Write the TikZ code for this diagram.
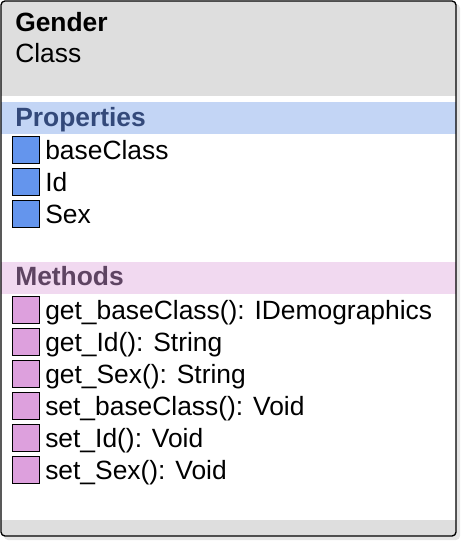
\documentclass[tikz,border=0pt]{standalone}
\usepackage{fontspec}
\setmainfont{Liberation Sans}

\definecolor{headgray}{HTML}{DEDEDE}
\definecolor{propband}{HTML}{C3D5F5}
\definecolor{proptext}{HTML}{33497A}
\definecolor{propbox}{HTML}{6495ED}
\definecolor{methband}{HTML}{F1D9F0}
\definecolor{methtext}{HTML}{5E4462}
\definecolor{methbox}{HTML}{DDA0DD}

\begin{document}
\begin{tikzpicture}[x=0.75pt, y=-0.75pt, font=\fontsize{19.8}{24}\selectfont]
	\tikzset{
		txt/.style={anchor=base west, inner sep=0pt},
		propsq/.style={draw, fill=propbox, minimum size=20.5pt, inner sep=0pt, line width=0.8pt},
		methsq/.style={draw, fill=methbox, minimum size=20.5pt, inner sep=0pt, line width=0.8pt}
	}
	\useasboundingbox (0, 0) rectangle (463, 544);
	\fill[black!10, rounded corners=3] (4, 4) rectangle (460, 540);
	\fill[white, rounded corners=3] (1, 1) rectangle (456, 536);
	\begin{scope}
		\clip[rounded corners=3] (1, 1) rectangle (456, 536);
		\fill[headgray] (0, 0) rectangle (463, 96);
		\fill[propband] (0, 102) rectangle (463, 134);
		\fill[methband] (0, 262) rectangle (463, 294);
		\fill[headgray] (0, 520) rectangle (463, 540);
	\end{scope}
	\draw[line width=1pt, rounded corners=3] (1, 1) rectangle (456, 536);

	\node[txt, font=\fontsize{19.8}{24}\selectfont\bfseries] (name) at (15, 31) {Gender};
	\node[txt] (kind) at (15, 62) {Class};

	\node[txt, text=proptext, font=\fontsize{19.8}{24}\selectfont\bfseries] (props) at (15, 126) {Properties};
	\node[propsq] (sqBase) at (26, 150) {};
	\node[txt] (baseClass) at (45, 159) {baseClass};
	\node[propsq] (sqId) at (26, 182) {};
	\node[txt] (id) at (45, 191) {Id};
	\node[propsq] (sqSex) at (26, 214) {};
	\node[txt] (sex) at (45, 223) {Sex};

	\node[txt, text=methtext, font=\fontsize{19.8}{24}\selectfont\bfseries] (meths) at (15, 285) {Methods};
	\node[methsq] (sqGetBase) at (26, 310) {};
	\node[txt] (getBase) at (45, 319) {get\_baseClass(): IDemographics};
	\node[methsq] (sqGetId) at (26, 342) {};
	\node[txt] (getId) at (45, 351) {get\_Id(): String};
	\node[methsq] (sqGetSex) at (26, 374) {};
	\node[txt] (getSex) at (45, 383) {get\_Sex(): String};
	\node[methsq] (sqSetBase) at (26, 406) {};
	\node[txt] (setBase) at (45, 415) {set\_baseClass(): Void};
	\node[methsq] (sqSetId) at (26, 438) {};
	\node[txt] (setId) at (45, 447) {set\_Id(): Void};
	\node[methsq] (sqSetSex) at (26, 470) {};
	\node[txt] (setSex) at (45, 479) {set\_Sex(): Void};
\end{tikzpicture}
\end{document}
